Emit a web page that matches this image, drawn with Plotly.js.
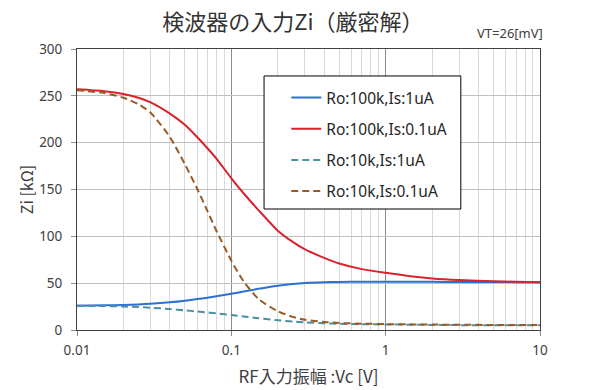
<!DOCTYPE html>
<html>
<head>
<meta charset="utf-8">
<script src="https://cdn.plot.ly/plotly-3.0.1.min.js"></script>
<style>html,body{margin:0;padding:0;background:#fff;}#chart{width:600px;height:390px;}</style>
</head>
<body>
<div id="chart"></div>
<script>
// RF input amplitude Vc [V]
const vc = [0.01, 0.015, 0.02, 0.025, 0.03, 0.04, 0.05, 0.06, 0.07, 0.08, 0.1, 0.12, 0.15, 0.2, 0.25, 0.3, 0.4, 0.5, 0.7, 1, 1.5, 2, 3, 5, 7, 10];
// Zi [kOhm]
const zi_100k_1uA  = [26, 26.3, 26.7, 27.3, 28, 29.6, 31.3, 33, 34.5, 36, 38.6, 41, 44, 47.3, 49.2, 50.2, 51, 51.3, 51.5, 51.5, 51.5, 51.4, 51.3, 51.2, 51.1, 51];
const zi_100k_01uA = [257, 255, 252, 248, 243, 231, 219, 206, 194, 183, 162, 146, 128, 106, 94, 86, 77, 71, 65, 61, 57, 55, 53.3, 52, 51.5, 51];
const zi_10k_1uA   = [26, 25.6, 25.1, 24.5, 23.8, 22.4, 21, 19.8, 18.7, 17.7, 16, 14.5, 12.6, 10.4, 9, 8.2, 7.2, 6.7, 6.2, 5.9, 5.6, 5.4, 5.2, 5.1, 5, 5];
const zi_10k_01uA  = [256, 253, 248, 241, 232, 206, 177, 151, 127, 106, 74, 52, 33, 20, 14, 11, 8.5, 7.5, 6.8, 6.3, 6, 5.8, 5.6, 5.4, 5.3, 5.3];

const seriesNames = ['Ro:100k,Is:1uA', 'Ro:100k,Is:0.1uA', 'Ro:10k,Is:1uA', 'Ro:10k,Is:0.1uA'];
const xTickVals = [0.01, 0.1, 1, 10];
const xTickText = ['0.01', '0.1', '1', '10'];
const xMinorVals = [0.02,0.03,0.04,0.05,0.06,0.07,0.08,0.09,0.2,0.3,0.4,0.5,0.6,0.7,0.8,0.9,2,3,4,5,6,7,8,9];

const mk = (y, name, color, dash, grp) => ({
  x: vc, y: y, name: name, type: 'scatter', mode: 'lines',
  line: {color: color, width: 2, dash: dash, shape: 'spline', smoothing: 0.6},
  legendgroup: grp, hoverinfo: 'skip'
});

const data = [
  mk(zi_100k_1uA,  seriesNames[0], '#2e6fd2', 'solid', 'a'),
  mk(zi_100k_01uA, seriesNames[1], '#d8232c', 'solid', 'b'),
  mk(zi_10k_1uA,   seriesNames[2], '#4a8fa2', '7px,4px', 'c'),
  mk(zi_10k_01uA,  seriesNames[3], '#9a5a26', '7px,4px', 'd')
];

const jp = 'Noto Sans CJK JP, Noto Sans, sans-serif';
const layout = {
  width: 600, height: 390,
  margin: {l: 77, r: 60, t: 49, b: 60, pad: 0},
  paper_bgcolor: '#fff', plot_bgcolor: '#fff',
  font: {family: 'Noto Sans, ' + jp, size: 13, color: '#404040'},
  showlegend: true,
  title: {text: '検波器の入力Zi（厳密解）', x: 0.488, xanchor: 'center', y: 0.943, yanchor: 'middle',
          font: {family: jp, size: 22, color: '#333333'}},
  xaxis: {
    type: 'log', range: [-2, 1],
    tickmode: 'array', tickvals: xTickVals, ticktext: xTickText,
    showgrid: true, gridcolor: '#8c8c8c', gridwidth: 1,
    minor: {tickmode: 'array', tickvals: xMinorVals, showgrid: true, gridcolor: '#d9d9d9', gridwidth: 1, ticks: ''},
    ticks: 'outside', ticklen: 5, tickcolor: '#8c8c8c', ticklabelstandoff: 3,
    showline: true, mirror: true, linecolor: '#404040', linewidth: 1,
    zeroline: false, tickfont: {size: 13.5, color: '#404040'},
    title: {text: 'RF入力振幅 :Vc [V]', font: {family: jp, size: 17, color: '#404040'}, standoff: 12}
  },
  yaxis: {
    range: [0, 300], dtick: 50, tick0: 0,
    showgrid: true, gridcolor: '#bfbfbf', gridwidth: 1,
    ticks: 'outside', ticklen: 5, tickcolor: '#8c8c8c', ticklabelstandoff: 6,
    showline: true, mirror: true, linecolor: '#404040', linewidth: 1,
    zeroline: false, tickfont: {size: 13.5, color: '#404040'},
    title: {text: 'Zi [kΩ]', font: {family: jp, size: 16, color: '#404040'}, standoff: 1}
  },
  legend: {
    x: 0.452, y: 0.886, xanchor: 'left', yanchor: 'top',
    bgcolor: 'rgba(0,0,0,0)', borderwidth: 0,
    traceorder: 'grouped', tracegroupgap: 8,
    font: {family: 'Noto Sans, sans-serif', size: 15.5, color: '#262626'}
  },
  shapes: [{
    type: 'rect', xref: 'paper', yref: 'paper', layer: 'above',
    x0: 0.404, x1: 0.829, y0: 0.4306, y1: 0.904,
    fillcolor: '#ffffff', line: {color: '#000000', width: 1}
  }],
  annotations: [{
    text: 'VT=26[mV]', xref: 'paper', yref: 'paper', x: 1.011, y: 1.057,
    xanchor: 'right', yanchor: 'middle', showarrow: false,
    font: {family: 'Noto Sans, sans-serif', size: 13, color: '#404040'}
  }]
};

Plotly.newPlot('chart', data, layout, {displayModeBar: false, staticPlot: true});
</script>
</body>
</html>
